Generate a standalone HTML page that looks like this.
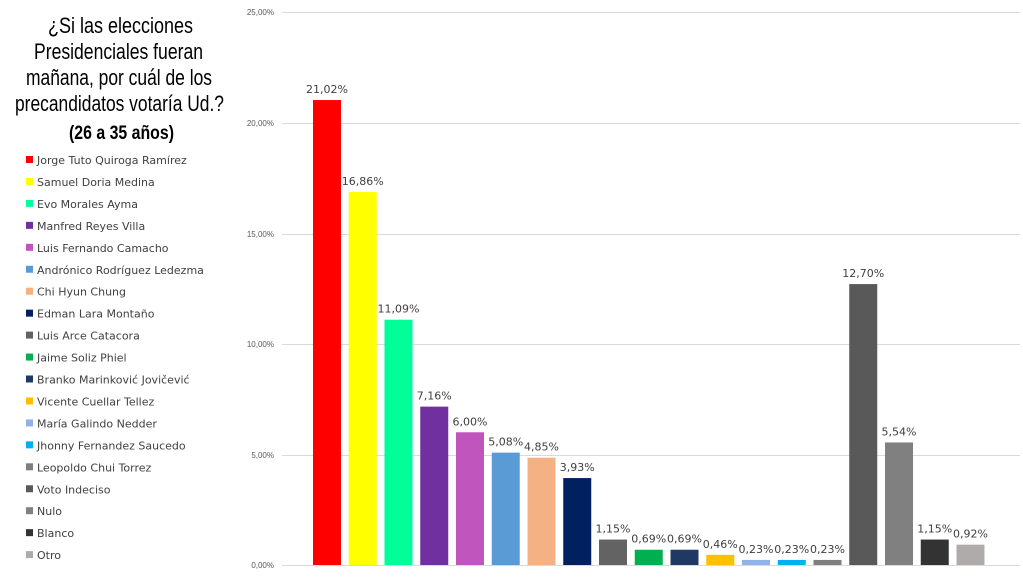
<!DOCTYPE html>
<html><head><meta charset="utf-8"><style>
body{margin:0;background:#fff;width:1023px;height:576px;overflow:hidden;font-family:"Liberation Sans",sans-serif}
</style></head><body>
<svg width="1023" height="576" xmlns="http://www.w3.org/2000/svg">
<g font-family="Liberation Sans, sans-serif" fill="#000" lengthAdjust="spacingAndGlyphs">
<text x="48" y="33" font-size="22" textLength="145" lengthAdjust="spacingAndGlyphs">¿Si las elecciones</text>
<text x="34" y="59" font-size="22" textLength="169" lengthAdjust="spacingAndGlyphs">Presidenciales fueran</text>
<text x="26" y="85" font-size="22" textLength="186" lengthAdjust="spacingAndGlyphs">mañana, por cuál de los</text>
<text x="15" y="111" font-size="22" textLength="209" lengthAdjust="spacingAndGlyphs">precandidatos votaría Ud.?</text>
<text x="69" y="139" font-size="19" font-weight="bold" textLength="105" lengthAdjust="spacingAndGlyphs">(26 a 35 años)</text>
</g>
<g id="grid" stroke="#d9d9d9" stroke-width="1">
<line x1="282" x2="1020" y1="12.5" y2="12.5"/>
<line x1="282" x2="1020" y1="123.5" y2="123.5"/>
<line x1="282" x2="1020" y1="234.5" y2="234.5"/>
<line x1="282" x2="1020" y1="344.5" y2="344.5"/>
<line x1="282" x2="1020" y1="455.5" y2="455.5"/>
<line x1="282" x2="1020" y1="565.5" y2="565.5"/>
</g>
<g font-family="Liberation Sans, sans-serif" font-size="8" fill="#595959" text-anchor="end">
<text x="274" y="15">25,00%</text><text x="274" y="126">20,00%</text><text x="274" y="237">15,00%</text>
<text x="274" y="347">10,00%</text><text x="274" y="458">5,00%</text><text x="274" y="568">0,00%</text>
</g>
<g id="bars" font-family="DejaVu Sans, sans-serif" font-size="11" fill="#404040" text-anchor="middle"></g>
<g id="leg" font-family="DejaVu Sans, sans-serif" font-size="11" fill="#404040"></g>
</svg>
<script>
var d=[["Jorge Tuto Quiroga Ramírez",21.02,"#FF0000"],["Samuel Doria Medina",16.86,"#FFFF00"],["Evo Morales Ayma",11.09,"#00FF99"],["Manfred Reyes Villa",7.16,"#7030A0"],["Luis Fernando Camacho",6.00,"#C055BE"],["Andrónico Rodríguez Ledezma",5.08,"#5B9BD5"],["Chi Hyun Chung",4.85,"#F4B183"],["Edman Lara Montaño",3.93,"#002060"],["Luis Arce Catacora",1.15,"#636363"],["Jaime Soliz Phiel",0.69,"#00B050"],["Branko Marinković Jovičević",0.69,"#203864"],["Vicente Cuellar Tellez",0.46,"#FFC000"],["María Galindo Nedder",0.23,"#8FB4E3"],["Jhonny Fernandez Saucedo",0.23,"#00B0F0"],["Leopoldo Chui Torrez",0.23,"#7F7F7F"],["Voto Indeciso",12.70,"#595959"],["Nulo",5.54,"#808080"],["Blanco",1.15,"#333333"],["Otro",0.92,"#AFABAB"]];
var ns="http://www.w3.org/2000/svg",b=document.getElementById("bars"),l=document.getElementById("leg");
function el(t,a,p,txt){var e=document.createElementNS(ns,t);for(var k in a)e.setAttribute(k,a[k]);if(txt)e.textContent=txt;p.appendChild(e);}
d.forEach(function(r,i){var x=313+i*35.75,h=r[1]*22.12,y=565-h;
el("rect",{x:x,y:y,width:28,height:h,fill:r[2]},b);
el("text",{x:x+14,y:y-7},b,r[1].toFixed(2).replace(".",",")+"%");
var ly=160+i*21.95;el("rect",{x:26,y:ly-4,width:7,height:7,fill:r[2]},l);
el("text",{x:37,y:ly+4},l,r[0]);});
</script>
</body></html>
